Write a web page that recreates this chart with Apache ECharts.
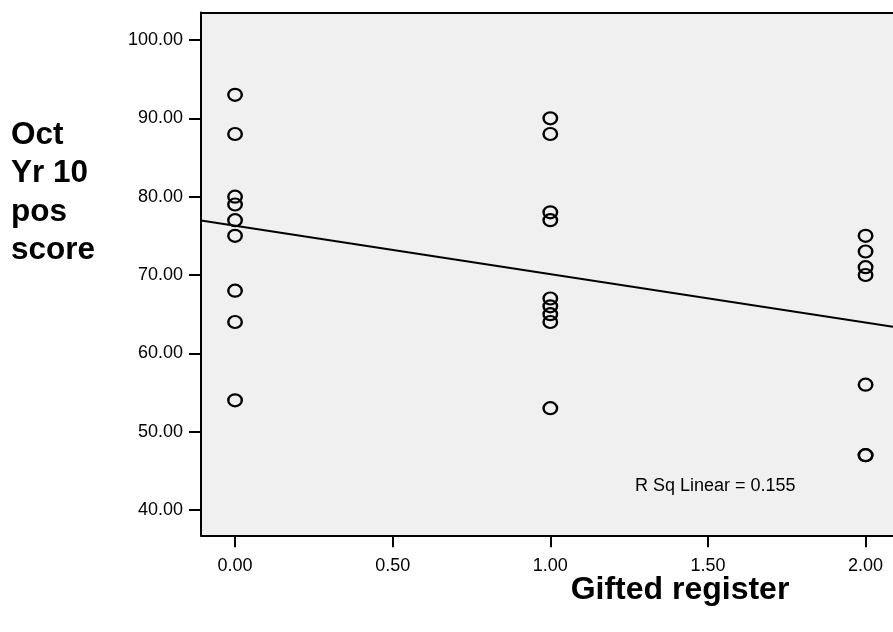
<!DOCTYPE html>
<html>
<head>
<meta charset="utf-8">
<script src="https://cdn.jsdelivr.net/npm/echarts@6/dist/echarts.min.js"></script>
<style>
  html, body { margin: 0; padding: 0; background: #ffffff; }
  #chart { width: 893px; height: 632px; }
</style>
</head>
<body>
<div id="chart"></div>
<script>
// Gifted register (0, 1, 2) against October Year 10 positive score
const giftedRegister = [0, 0, 0, 0, 0, 0, 0, 0, 0,
                        1, 1, 1, 1, 1, 1, 1, 1, 1,
                        2, 2, 2, 2, 2, 2, 2];
const posScore = [93, 88, 80, 79, 77, 75, 68, 64, 54,
                  90, 88, 78, 77, 67, 66, 65, 64, 53,
                  75, 73, 71, 70, 56, 47, 47];

const xTicks = [0, 0.5, 1, 1.5, 2];
const yTicks = [40, 50, 60, 70, 80, 90, 100];

const rSqText = 'R Sq Linear = 0.155';
const xTitle = 'Gifted register';
const yTitle = 'Oct\nYr 10\npos\nscore';

// Axis extents
const xMin = -0.108, xMax = 2.087;
const yMin = 36.77, yMax = 103.51;

// Least-squares fit line through the points
function linearFit(xs, ys) {
  const n = xs.length;
  let sx = 0, sy = 0, sxx = 0, sxy = 0;
  for (let i = 0; i < n; i++) {
    sx += xs[i]; sy += ys[i];
    sxx += xs[i] * xs[i]; sxy += xs[i] * ys[i];
  }
  const slope = (n * sxy - sx * sy) / (n * sxx - sx * sx);
  const intercept = (sy - slope * sx) / n;
  return { slope, intercept };
}
const fit = linearFit(giftedRegister, posScore);
const fitLine = [xMin, xMax].map(x => [x, fit.intercept + fit.slope * x]);

const points = giftedRegister.map((x, i) => [x, posScore[i]]);

const FONT = "'Liberation Sans', Arial, sans-serif";

const chart = echarts.init(document.getElementById('chart'), null, { renderer: 'canvas' });
chart.setOption({
  animation: false,
  backgroundColor: '#ffffff',
  grid: {
    left: 201, top: 12.5, right: 0, bottom: 96.7,
    show: true, backgroundColor: '#f0f0f0', borderWidth: 0
  },
  xAxis: [{
    type: 'value', min: xMin, max: xMax,
    position: 'bottom',
    axisLine: { show: true, onZero: false, lineStyle: { color: '#000', width: 2 } },
    axisTick: { show: true, inside: false, customValues: xTicks, length: 12, lineStyle: { color: '#000', width: 2 } },
    axisLabel: {
      show: true, customValues: xTicks, margin: 22,
      formatter: v => v.toFixed(2),
      color: '#000', fontFamily: FONT, fontSize: 18
    },
    splitLine: { show: false }
  }, {
    type: 'value', min: xMin, max: xMax,
    position: 'top',
    axisLine: { show: true, onZero: false, lineStyle: { color: '#000', width: 2 } },
    axisTick: { show: false }, axisLabel: { show: false }, splitLine: { show: false }
  }],
  yAxis: {
    type: 'value', min: yMin, max: yMax,
    axisLine: { show: true, onZero: false, lineStyle: { color: '#000', width: 2 } },
    axisTick: { show: true, inside: false, customValues: yTicks, length: 12, lineStyle: { color: '#000', width: 2 } },
    axisLabel: {
      show: true, customValues: yTicks, margin: 18,
      formatter: v => v.toFixed(2),
      color: '#000', fontFamily: FONT, fontSize: 18
    },
    splitLine: { show: false }
  },
  series: [{
    type: 'line',
    data: fitLine,
    showSymbol: false,
    lineStyle: { color: '#000', width: 2 },
    z: 2
  }, {
    type: 'scatter',
    data: points,
    symbol: 'circle',
    symbolSize: [13.5, 12],
    itemStyle: { color: 'rgba(0,0,0,0)', borderColor: '#000', borderWidth: 2.3, opacity: 1 },
    z: 3
  }],
  graphic: [{
    type: 'text', left: 11, top: 116,
    style: {
      text: yTitle, font: 'bold 31.5px ' + FONT, fill: '#000',
      lineHeight: 38.5, align: 'left'
    }
  }, {
    type: 'text', x: 680, y: 590,
    style: {
      text: xTitle, font: 'bold 32px ' + FONT, fill: '#000',
      align: 'center', verticalAlign: 'middle'
    }
  }, {
    type: 'text', x: 635, y: 486,
    style: {
      text: rSqText, font: '18px ' + FONT, fill: '#000',
      align: 'left', verticalAlign: 'middle'
    }
  }]
});
</script>
</body>
</html>
